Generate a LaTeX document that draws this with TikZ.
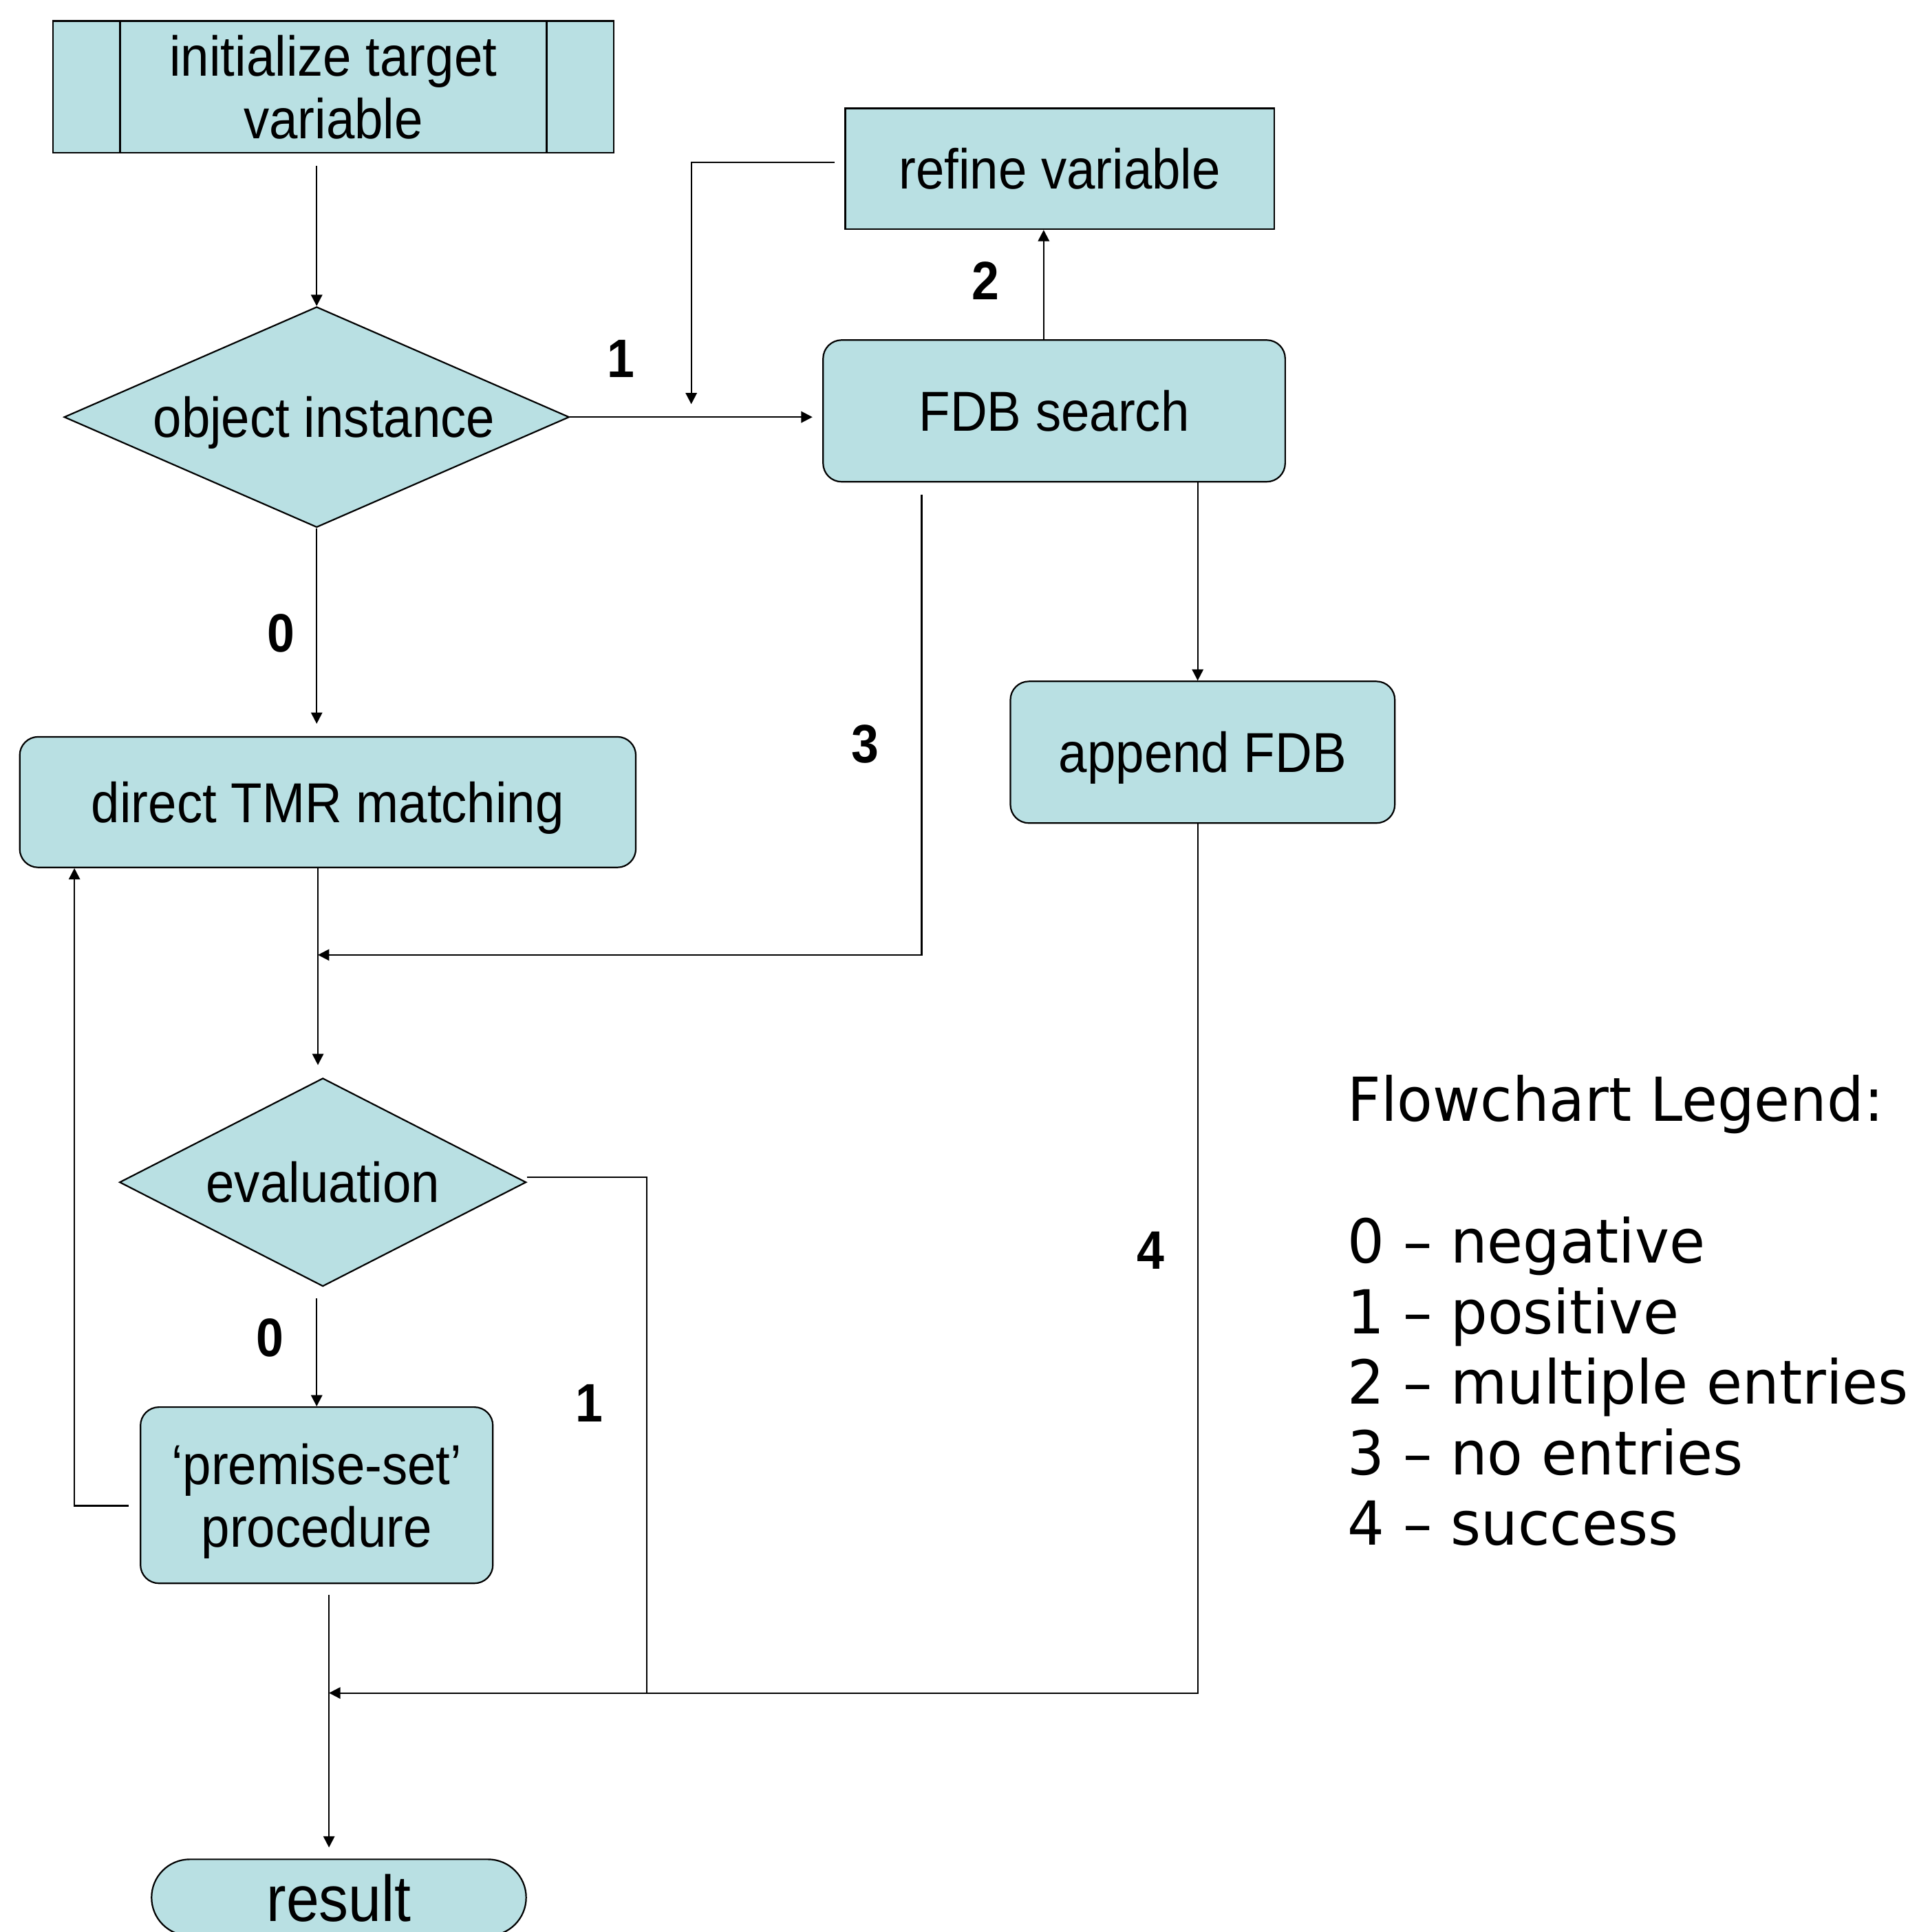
\documentclass[tikz,border=0pt]{standalone}
\usepackage{fontspec}
\usetikzlibrary{shapes.geometric,arrows.meta}
\newfontfamily\boxfont[FakeStretch=0.91]{Liberation Sans}
\newfontfamily\legendfont[FakeStretch=0.96]{DejaVu Sans}
\definecolor{boxfill}{RGB}{185,224,227}

\begin{document}
\begin{tikzpicture}[line width=0.35pt,
		box/.style={draw, fill=boxfill, inner sep=0pt, align=center, text depth=0pt,
			font=\boxfont\fontsize{13}{14.4}\selectfont},
		rbox/.style={box, rounded corners=0.15cm},
		decision/.style={box, diamond, aspect=2},
		flow/.style={-{Triangle[length=2.6pt, width=2.6pt]}},
		num/.style={font=\boxfont\bfseries\fontsize{12.5}{14}\selectfont},
		legend/.style={anchor=base west, inner sep=0pt, font=\legendfont\fontsize{14}{16}\selectfont}]
	\useasboundingbox (0,0) rectangle (15.66,-15.68);
	% flowchart boxes
	\node[box, minimum width=4.55cm, minimum height=1.07cm] (init) at (2.705,-0.705) {initialize target\\variable};
	\draw ([xshift=0.55cm]init.north west) -- ([xshift=0.55cm]init.south west)
		([xshift=-0.55cm]init.north east) -- ([xshift=-0.55cm]init.south east);
	\node[box, minimum width=3.48cm, minimum height=0.98cm] (refine) at (8.60,-1.37) {refine variable};
	\node[decision, minimum width=4.10cm, minimum height=1.79cm] (object) at (2.57,-3.385) {\hspace{0.12cm}object instance};
	\node[rbox, minimum width=3.75cm, minimum height=1.15cm] (fdb) at (8.555,-3.335) {FDB search};
	\node[rbox, minimum width=3.12cm, minimum height=1.15cm] (append) at (9.76,-6.105) {append FDB};
	\node[rbox, minimum width=5.00cm, minimum height=1.06cm] (tmr) at (2.66,-6.51) {direct TMR matching};
	\node[decision, minimum width=3.30cm, minimum height=1.69cm] (eval) at (2.62,-9.595) {evaluation};
	\node[rbox, minimum width=2.86cm, minimum height=1.43cm] (premise) at (2.57,-12.135) {‘premise-set’\\procedure};
	\node[box, rounded corners=0.31cm, minimum width=3.04cm, minimum height=0.62cm,
		font=\boxfont\fontsize{15}{17}\selectfont] (result) at (2.75,-15.40) {result};

	% junctions
	\coordinate (j1) at (5.61,-3.28);
	\coordinate (j3) at (2.58,-7.75);
	\coordinate (j4) at (5.25,-13.74);
	\coordinate (j5) at (2.67,-13.74);

	% connectors
	\draw[flow, shorten <=0.1cm] (object.north |- init.south) -- (object.north);
	\draw[flow, shorten >=0.08cm] (object.east) -- (fdb.west |- object.east);
	\draw[flow, shorten <=0.08cm] ([yshift=0.05cm]refine.west) -| (j1);
	\draw[flow] ([xshift=-0.085cm]fdb.north) -- ([xshift=-0.085cm]fdb.north |- refine.south);
	\draw[flow] ([xshift=-0.04cm]append.north |- fdb.south) -- ([xshift=-0.04cm]append.north);
	\draw[flow, shorten >=0.1cm] (object.south) -- (object.south |- tmr.north);
	\draw[flow, shorten <=0.1cm] ([xshift=-1.075cm]fdb.south) |- (j3);
	\draw[flow, shorten >=0.1cm] (j3 |- tmr.south) -- (j3 |- eval.north);
	\draw[flow, shorten <=0.09cm] (premise.north |- eval.south) -- (premise.north);
	\draw[flow, shorten <=0.09cm] ([yshift=-0.085cm]premise.west) -| ([xshift=0.45cm]tmr.south west);
	\draw ([yshift=0.04cm]eval.east) -| (j4);
	\draw[flow] ([xshift=-0.04cm]append.south) |- (j5);
	\draw[flow, shorten <=0.09cm, shorten >=0.09cm] (j5 |- premise.south) -- (j5 |- result.north);

	% branch numbers
	\node[num] (pos1) at (5.04,-2.91) {1};
	\node[num] (mult2) at (8.00,-2.28) {2};
	\node[num] (neg0) at (2.28,-5.14) {0};
	\node[num] (none3) at (7.02,-6.04) {3};
	\node[num] (neg0b) at (2.19,-10.86) {0};
	\node[num] (pos1b) at (4.78,-11.39) {1};
	\node[num] (succ4) at (9.34,-10.15) {4};

	% legend
	\node[legend] (legtitle) at (10.93,-9.10) {Flowchart Legend:};
	\foreach \n/\txt in {0/negative, 1/positive, 2/multiple entries, 3/no entries, 4/success}
		\node[legend] (leg\n) at (10.93,{-10.25-0.5725*\n}) {\n{} – \txt};
\end{tikzpicture}
\end{document}
